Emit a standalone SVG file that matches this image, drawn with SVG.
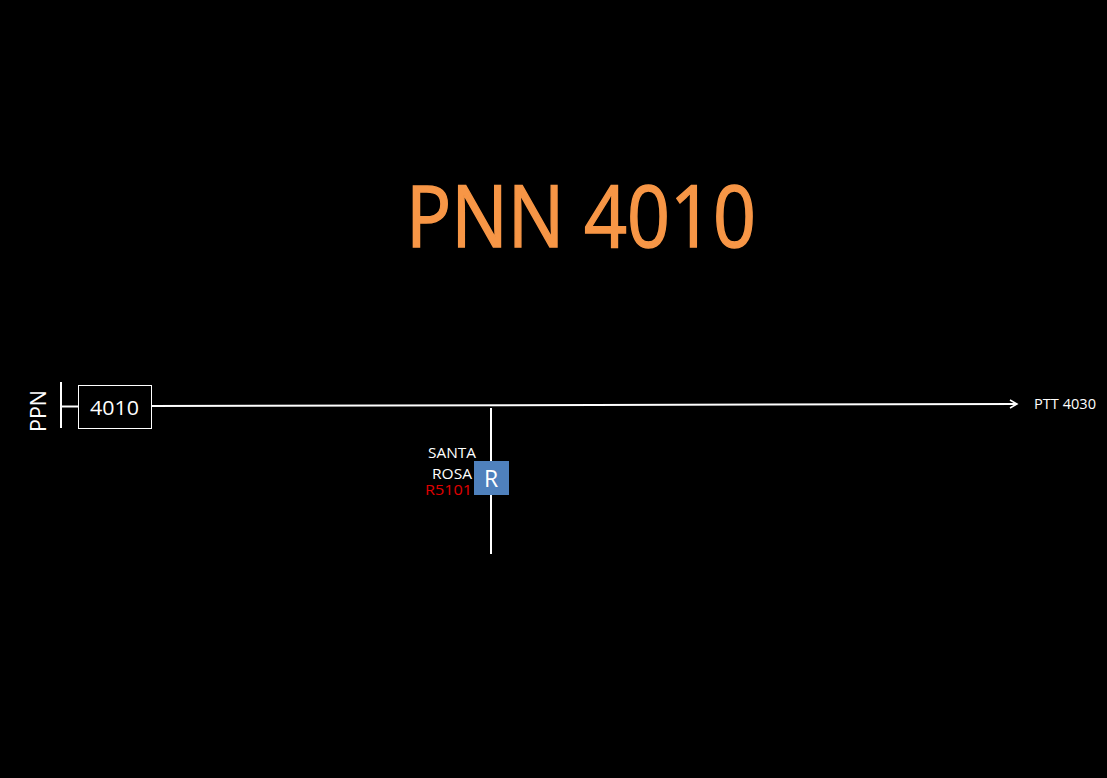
<svg xmlns="http://www.w3.org/2000/svg" width="1107" height="778" viewBox="0 0 1107 778">
<style>
.t{font-family:"Open Sans","Liberation Sans",sans-serif;fill:#fff}
.ln{stroke:#fff;stroke-width:2;fill:none}
</style>
<defs>
<marker id="ah" markerWidth="10" markerHeight="10" refX="8" refY="5" orient="auto" markerUnits="userSpaceOnUse">
<path d="M1,1 L8,5 L1,9" fill="none" stroke="#fff" stroke-width="1.5"/>
</marker>
</defs>
<rect width="1107" height="778" fill="#000"/>
<text x="581" y="247" text-anchor="middle" font-size="86" textLength="350" lengthAdjust="spacingAndGlyphs" stroke="#F79646" stroke-width="1.5" style="font-family:'Open Sans','Liberation Sans',sans-serif;fill:#F79646">PNN 4010</text>
<g id="connectors">
<line class="ln" x1="62" y1="406.5" x2="78" y2="406.5"/>
<line class="ln" x1="152" y1="406" x2="1017" y2="404" marker-end="url(#ah)"/>
<line class="ln" x1="491" y1="408" x2="491" y2="554"/>
</g>
<g id="ppn">
<line class="ln" x1="61" y1="382" x2="61" y2="428"/>
<text class="t" transform="translate(46,411) rotate(-90)" text-anchor="middle" font-size="21" textLength="42" lengthAdjust="spacingAndGlyphs">PPN</text>
</g>
<g id="n4010">
<rect x="78.5" y="385.5" width="73" height="43" fill="#000" stroke="#fff" stroke-width="1"/>
<text class="t" x="114.5" y="415" text-anchor="middle" font-size="20" textLength="49" lengthAdjust="spacingAndGlyphs">4010</text>
</g>
<g id="ptt">
<text class="t" x="1034" y="409" font-size="14" textLength="62" lengthAdjust="spacingAndGlyphs">PTT 4030</text>
</g>
<g id="santarosa">
<rect x="474" y="461" width="35" height="34" fill="#4F81BD"/>
<text class="t" x="491" y="487" text-anchor="middle" font-size="23">R</text>
<text class="t" x="476" y="458" text-anchor="end" font-size="14" textLength="48" lengthAdjust="spacingAndGlyphs">SANTA</text>
<text class="t" x="472" y="479" text-anchor="end" font-size="14" textLength="40" lengthAdjust="spacingAndGlyphs">ROSA</text>
<text x="472" y="495" text-anchor="end" font-size="14" textLength="47" lengthAdjust="spacingAndGlyphs" style="font-family:'Open Sans','Liberation Sans',sans-serif;fill:#E00000">R5101</text>
</g>
</svg>
